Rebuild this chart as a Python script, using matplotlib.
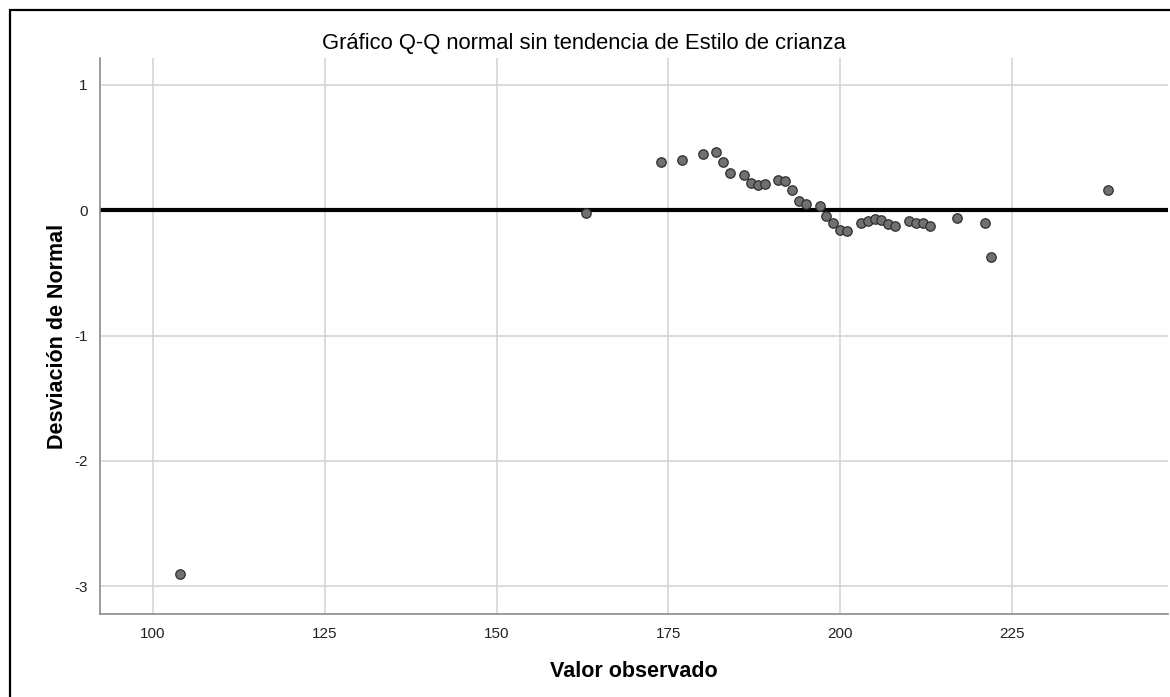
import matplotlib
matplotlib.use("Agg")
import matplotlib.pyplot as plt
from matplotlib.patches import Rectangle

plt.rcParams["font.family"] = ["Liberation Sans", "DejaVu Sans"]
plt.rcParams["axes.unicode_minus"] = False

title = "Gráfico Q-Q normal sin tendencia de Estilo de crianza"
x_label = "Valor observado"
y_label = "Desviación de Normal"

observed = [104, 163, 174, 177, 180, 182, 183, 184, 186, 187, 188, 189,
            191, 192, 193, 194, 195, 197, 198, 199, 200, 201, 203, 204,
            205, 206, 207, 208, 210, 211, 212, 213, 217, 221, 222, 239]
deviation = [-2.90, -0.02, 0.38, 0.40, 0.45, 0.46, 0.385, 0.30, 0.28, 0.22,
             0.20, 0.21, 0.24, 0.23, 0.16, 0.07, 0.05, 0.03, -0.05, -0.105,
             -0.16, -0.17, -0.10, -0.09, -0.07, -0.08, -0.11, -0.125, -0.085,
             -0.10, -0.10, -0.125, -0.06, -0.10, -0.37, 0.16]

x_ticks = [100, 125, 150, 175, 200, 225]
y_ticks = [1, 0, -1, -2, -3]

W, H = 1170, 697
fig = plt.figure(figsize=(W / 100, H / 100), dpi=100)
ax = fig.add_axes([100 / W, 1 - 614 / H, 1068 / W, 556 / H])

# outer frame (only left and top visible in the crop)
fig.patches.append(Rectangle((9.5 / W, -0.2), 1.5, 1 - 9.5 / H + 0.2,
                             transform=fig.transFigure, fill=False,
                             edgecolor="black", linewidth=1.6, zorder=0))

ax.set_xlim(92.3, 247.7)
ax.set_ylim(-3.22, 1.213)
ax.set_xticks(x_ticks)
ax.set_yticks(y_ticks)
ax.grid(True, color="#d2d2d2", linewidth=1.1)
ax.set_axisbelow(True)
ax.tick_params(length=0, labelsize=11, colors="#222222", pad=9)

for side in ["top", "right"]:
    ax.spines[side].set_visible(False)
for side in ["left", "bottom"]:
    ax.spines[side].set_color("#8a8a8a")
    ax.spines[side].set_linewidth(1.2)

ax.axhline(0, color="black", linewidth=3.0, zorder=2)
ax.scatter(observed, deviation, s=46, facecolor="#707070",
           edgecolor="#2e2e2e", linewidth=0.9, zorder=3)

ax.set_xlabel(x_label, fontsize=15.5, fontweight="bold", labelpad=15)
ax.set_ylabel(y_label, fontsize=15.5, fontweight="bold", labelpad=4)
fig.text(584 / W, 1 - 43 / H, title, fontsize=15.8, ha="center", va="center")

fig.savefig("out.png", dpi=100)
